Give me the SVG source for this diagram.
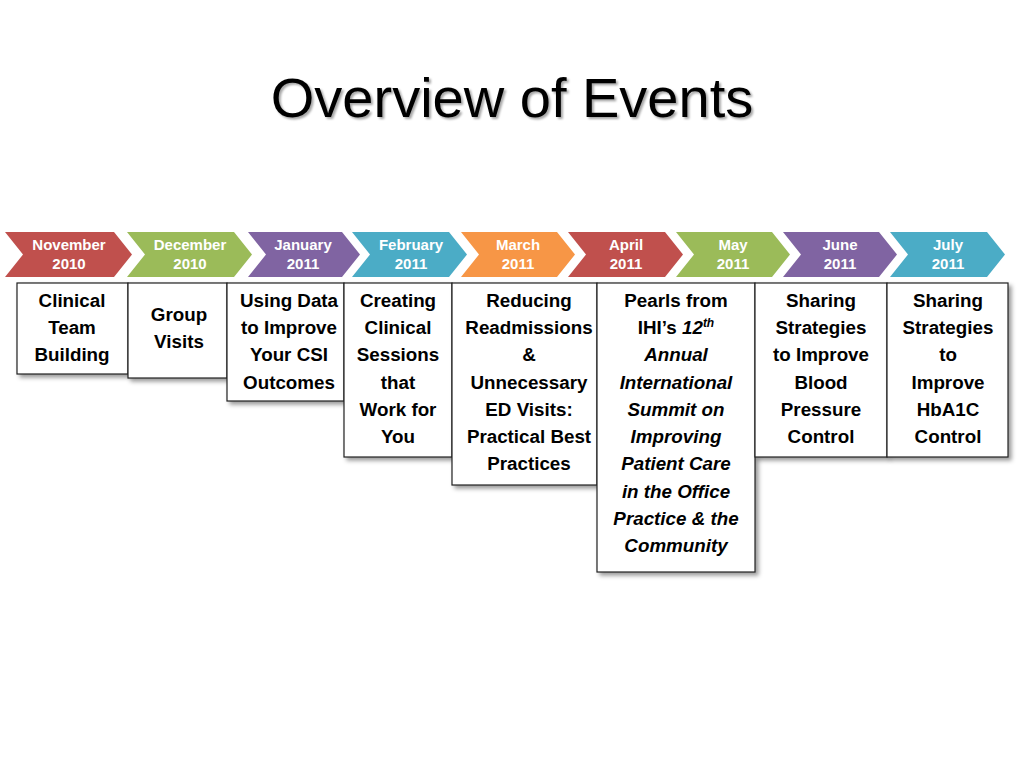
<svg xmlns="http://www.w3.org/2000/svg" width="1024" height="768" viewBox="0 0 1024 768">
<defs>
<filter id="ts" x="-5%" y="-20%" width="110%" height="150%">
<feDropShadow dx="2" dy="2" stdDeviation="1.2" flood-color="#000" flood-opacity="0.35"/>
</filter>
<filter id="bs" x="-5%" y="-5%" width="115%" height="115%">
<feDropShadow dx="3" dy="3" stdDeviation="2" flood-color="#000" flood-opacity="0.4"/>
</filter>
<style>
.title{font-family:"Liberation Sans",Arial,sans-serif;font-size:56px;fill:#000;text-anchor:middle}
.cl{font-family:"Liberation Sans",Arial,sans-serif;font-size:15px;font-weight:bold;fill:#fff;text-anchor:middle}
.box{fill:#fff;stroke:#222;stroke-width:1.2}
.bt{font-family:"Liberation Sans",Arial,sans-serif;font-size:18.8px;font-weight:bold;fill:#000;text-anchor:middle}
.it{font-style:italic}
.red{fill:#C0504D}.green{fill:#9BBB59}.purple{fill:#8064A2}.aqua{fill:#4BACC6}.orange{fill:#F79646}
</style>
</defs>
<rect width="1024" height="768" fill="#fff"/>
<text class="title" x="512" y="117" filter="url(#ts)">Overview of Events</text>

<g id="chevrons">
<g id="c-nov"><path class="red" d="M5 232 L114 232 L132 254.5 L114 277 L5 277 L23 254.5 Z"/><text class="cl" x="69" y="249.5">November</text><text class="cl" x="69" y="268.5">2010</text></g>
<g id="c-dec"><path class="green" d="M127 232 L234 232 L252 254.5 L234 277 L127 277 L145 254.5 Z"/><text class="cl" x="190" y="249.5">December</text><text class="cl" x="190" y="268.5">2010</text></g>
<g id="c-jan"><path class="purple" d="M248 232 L342 232 L360 254.5 L342 277 L248 277 L266 254.5 Z"/><text class="cl" x="303" y="249.5">January</text><text class="cl" x="303" y="268.5">2011</text></g>
<g id="c-feb"><path class="aqua" d="M352 232 L449 232 L467 254.5 L449 277 L352 277 L370 254.5 Z"/><text class="cl" x="411" y="249.5">February</text><text class="cl" x="411" y="268.5">2011</text></g>
<g id="c-mar"><path class="orange" d="M461 232 L557 232 L575 254.5 L557 277 L461 277 L479 254.5 Z"/><text class="cl" x="518" y="249.5">March</text><text class="cl" x="518" y="268.5">2011</text></g>
<g id="c-apr"><path class="red" d="M568 232 L665 232 L683 254.5 L665 277 L568 277 L586 254.5 Z"/><text class="cl" x="626" y="249.5">April</text><text class="cl" x="626" y="268.5">2011</text></g>
<g id="c-may"><path class="green" d="M676 232 L772 232 L790 254.5 L772 277 L676 277 L694 254.5 Z"/><text class="cl" x="733" y="249.5">May</text><text class="cl" x="733" y="268.5">2011</text></g>
<g id="c-jun"><path class="purple" d="M783 232 L879 232 L897 254.5 L879 277 L783 277 L801 254.5 Z"/><text class="cl" x="840" y="249.5">June</text><text class="cl" x="840" y="268.5">2011</text></g>
<g id="c-jul"><path class="aqua" d="M890 232 L987 232 L1005 254.5 L987 277 L890 277 L908 254.5 Z"/><text class="cl" x="948" y="249.5">July</text><text class="cl" x="948" y="268.5">2011</text></g>
</g>

<g id="b1"><rect class="box" x="17" y="283" width="111" height="91" filter="url(#bs)"/>
<text class="bt" x="72"><tspan x="72" y="307">Clinical</tspan><tspan x="72" y="334">Team</tspan><tspan x="72" y="361">Building</tspan></text></g>

<g id="b2"><rect class="box" x="128" y="283" width="99" height="95" filter="url(#bs)"/>
<text class="bt" x="179"><tspan x="179" y="321">Group</tspan><tspan x="179" y="348">Visits</tspan></text></g>

<g id="b3"><rect class="box" x="227" y="283" width="117" height="118" filter="url(#bs)"/>
<text class="bt" x="289"><tspan x="289" y="307">Using Data</tspan><tspan x="289" y="334">to Improve</tspan><tspan x="289" y="361">Your CSI</tspan><tspan x="289" y="389">Outcomes</tspan></text></g>

<g id="b4"><rect class="box" x="344" y="283" width="108" height="174" filter="url(#bs)"/>
<text class="bt" x="398"><tspan x="398" y="307">Creating</tspan><tspan x="398" y="334">Clinical</tspan><tspan x="398" y="361">Sessions</tspan><tspan x="398" y="389">that</tspan><tspan x="398" y="416">Work for</tspan><tspan x="398" y="443">You</tspan></text></g>

<g id="b5"><rect class="box" x="452" y="283" width="145" height="202" filter="url(#bs)"/>
<text class="bt" x="529"><tspan x="529" y="307">Reducing</tspan><tspan x="529" y="334">Readmissions</tspan><tspan x="529" y="361">&amp;</tspan><tspan x="529" y="389">Unnecessary</tspan><tspan x="529" y="416">ED Visits:</tspan><tspan x="529" y="443">Practical Best</tspan><tspan x="529" y="470">Practices</tspan></text></g>

<g id="b6"><rect class="box" x="597" y="283" width="158" height="289" filter="url(#bs)"/>
<text class="bt" x="676"><tspan x="676" y="307">Pearls from</tspan><tspan x="676" y="334">IHI’s <tspan class="it">12</tspan><tspan class="it" font-size="12px" dy="-7">th</tspan></tspan><tspan class="it" x="676" y="361">Annual</tspan><tspan class="it" x="676" y="389">International</tspan><tspan class="it" x="676" y="416">Summit on</tspan><tspan class="it" x="676" y="443">Improving</tspan><tspan class="it" x="676" y="470">Patient Care</tspan><tspan class="it" x="676" y="498">in the Office</tspan><tspan class="it" x="676" y="525">Practice &amp; the</tspan><tspan class="it" x="676" y="552">Community</tspan></text></g>

<g id="b7"><rect class="box" x="755" y="283" width="132" height="174" filter="url(#bs)"/>
<text class="bt" x="821"><tspan x="821" y="307">Sharing</tspan><tspan x="821" y="334">Strategies</tspan><tspan x="821" y="361">to Improve</tspan><tspan x="821" y="389">Blood</tspan><tspan x="821" y="416">Pressure</tspan><tspan x="821" y="443">Control</tspan></text></g>

<g id="b8"><rect class="box" x="887" y="283" width="121" height="174" filter="url(#bs)"/>
<text class="bt" x="948"><tspan x="948" y="307">Sharing</tspan><tspan x="948" y="334">Strategies</tspan><tspan x="948" y="361">to</tspan><tspan x="948" y="389">Improve</tspan><tspan x="948" y="416">HbA1C</tspan><tspan x="948" y="443">Control</tspan></text></g>
</svg>
